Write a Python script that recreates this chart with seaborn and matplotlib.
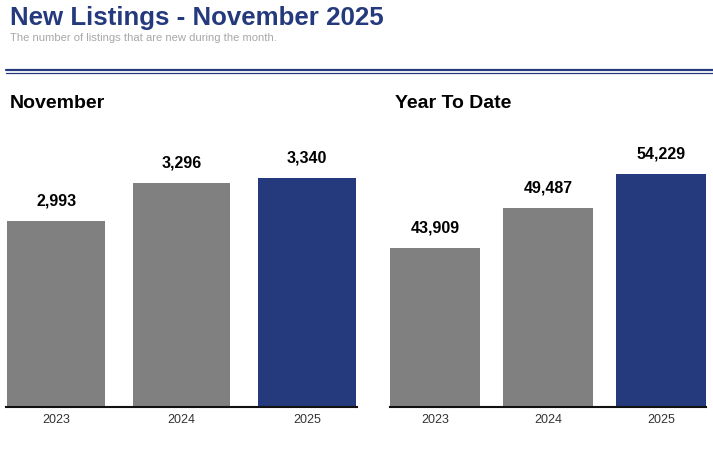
import matplotlib
matplotlib.use("Agg")
import matplotlib.pyplot as plt
import seaborn as sns
from matplotlib.lines import Line2D

years = ["2023", "2024", "2025"]
month_values = [2993, 3296, 3340]
ytd_values = [43909, 49487, 54229]
bar_colors = ["#808080", "#808080", "#253A7C"]

title = "New Listings - November 2025"
subtitle = "The number of listings that are new during the month."
panel_titles = ["November", "Year To Date"]

sns.set_theme(style="white")
plt.rcParams["font.family"] = ["Liberation Sans", "DejaVu Sans"]

W, H = 713, 449
fig = plt.figure(figsize=(W / 100, H / 100), dpi=100)

def fx(px):
    return px / W

def fy(py):
    return 1 - py / H

fig.text(fx(10), fy(18), title, fontsize=18.6, fontweight="bold", color="#253A7C", va="center", ha="left")
fig.text(fx(10), fy(38), subtitle, fontsize=8.1, color="#A8A8A8", va="center", ha="left")
fig.add_artist(Line2D([fx(6), fx(713)], [fy(69.5), fy(69.5)], color="#253A7C", lw=1.6))
fig.add_artist(Line2D([fx(6), fx(713)], [fy(72.5), fy(72.5)], color="#253A7C", lw=0.9))

panels = [
    (6, 357, month_values, (1492, 3727), 0.78, 10, panel_titles[0]),
    (390, 706, ytd_values, (21729, 60370), 0.80, 395, panel_titles[1]),
]
top_px, base_px = 130, 407
for left, right, vals, ylim, width, tx, ptitle in panels:
    ax = fig.add_axes([fx(left), fy(base_px), fx(right - left), (base_px - top_px) / H])
    sns.barplot(x=years, y=vals, hue=years, palette=bar_colors, legend=False,
                width=width, ax=ax, saturation=1, linewidth=0)
    ax.set_xlim(-0.4, 2.4)
    ax.set_ylim(*ylim)
    ax.set_yticks([])
    ax.set_xlabel("")
    ax.set_ylabel("")
    for s in ["top", "left", "right"]:
        ax.spines[s].set_visible(False)
    ax.spines["bottom"].set_color("#111111")
    ax.spines["bottom"].set_linewidth(1.5)
    ax.tick_params(axis="x", length=0, pad=5, labelsize=9, labelcolor="#333333")
    for i, v in enumerate(vals):
        ax.annotate(f"{v:,}", (i, v), xytext=(0, 9), textcoords="offset points",
                    ha="center", va="bottom", fontsize=11.5, fontweight="bold", color="#000000")
    fig.text(fx(tx), fy(104), ptitle, fontsize=14, fontweight="bold", color="#000000",
             va="center", ha="left")

fig.savefig("out.png", dpi=100)
